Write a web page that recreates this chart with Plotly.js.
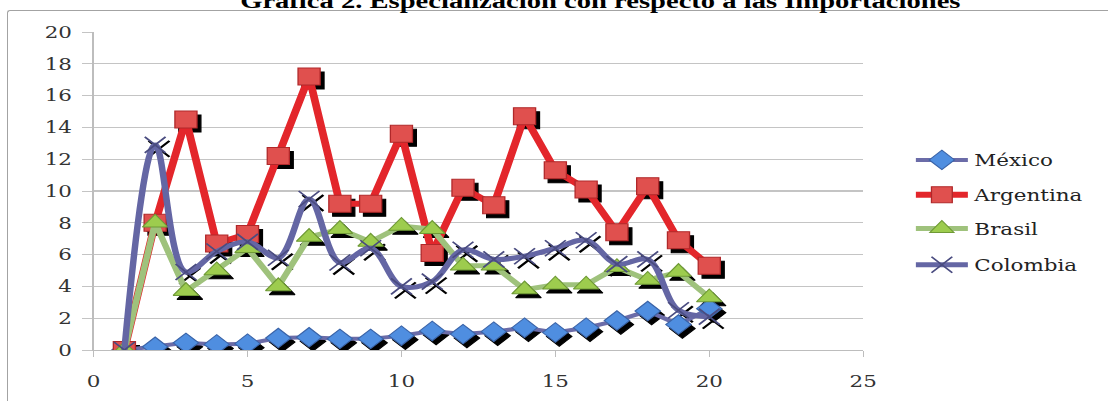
<!DOCTYPE html>
<html><head><meta charset="utf-8">
<script src="https://cdn.plot.ly/plotly-3.0.1.min.js"></script>
<style>
html,body{margin:0;padding:0;background:#fff;overflow:hidden;}
#wrap{width:1108px;height:401px;overflow:hidden;position:relative;background:#fff;}
#frame{position:absolute;left:7px;top:10px;width:1200px;height:500px;border-top:1.5px solid #a3a3a3;border-left:1.5px solid #a3a3a3;border-top-left-radius:3px;}
#chart{position:absolute;left:0;top:0;width:852px;height:401px;transform:scaleX(1.3);transform-origin:0 0;}
</style></head>
<body><div id="wrap"><div id="frame"></div><div id="chart"></div></div>
<script>
const periodos = [1,2,3,4,5,6,7,8,9,10,11,12,13,14,15,16,17,18,19,20];
const mexico    = [0,0.2,0.45,0.35,0.4,0.75,0.8,0.7,0.7,0.9,1.2,1.0,1.15,1.4,1.1,1.4,1.85,2.45,1.6,2.6];
const argentina = [0,8.0,14.5,6.7,7.3,12.2,17.2,9.2,9.2,13.6,6.1,10.2,9.1,14.7,11.3,10.1,7.4,10.3,6.9,5.3];
const brasil    = [0,8.0,3.7,5.0,6.4,4.0,7.1,7.6,6.8,7.8,7.6,5.3,5.3,3.8,4.1,4.1,5.2,4.4,4.9,3.3];
const colombia  = [0,12.9,4.9,6.2,6.8,5.8,9.5,5.5,6.4,4.0,4.3,6.3,5.7,5.9,6.4,6.9,5.4,5.7,2.5,2.1];
const nombres = ['México','Argentina','Brasil','Colombia'];
const titulo = 'Gráfica 2. Especialización con respecto a las Importaciones';

const series = [mexico, argentina, brasil, colombia];
const lineCol = ['#6b6ca8','#e3262b','#9fc27c','#6466a4'];
const mk = [
  {symbol:'diamond', size:15, color:'#4f8ee0', line:{color:'#3b64a8', width:1}},
  {symbol:'square', size:17, color:'#e0504e', line:{color:'#b0282a', width:1}},
  {symbol:'triangle-up', size:17, color:'#9dcc4e', line:{color:'#6f9a36', width:1}},
  {symbol:'x-thin', size:16, color:'#4a4c80', line:{color:'#4a4c80', width:1.5}}
];
const shp = ['linear','linear','linear','spline'];
const lw = [4,6,5,5];
const legIds = ['legend','legend2','legend3','legend4'];
const legY = [0.597, 0.487, 0.381, 0.267];

const traces = [];
series.forEach((s,i)=>{
  const m = Object.assign({}, mk[i], {color:'#000', line:{color:'#000', width: i===3?2:1}});
  traces.push({x:periodos, y:s, mode:'markers', marker:m, showlegend:false, hoverinfo:'skip', xaxis:'x', yaxis:'y'});
});
series.forEach((s,i)=>{
  traces.push({x:periodos, y:s, name:nombres[i], mode:'lines+markers', legend:legIds[i],
    line:{color:lineCol[i], width:lw[i], shape:shp[i], smoothing:1},
    marker:mk[i], xaxis:'x2', yaxis:'y2'});
});

const pxX = 594.6/25, pxY = 318/20;
const layout = {
  width:852, height:401,
  margin:{l:71.5, r:185.9, t:32, b:51},
  paper_bgcolor:'rgba(0,0,0,0)', plot_bgcolor:'rgba(0,0,0,0)',
  font:{family:'DejaVu Serif', color:'#333'},
  title:{text:'<b>'+titulo+'</b>', x:0.542, xanchor:'center', y:1.0, yanchor:'middle', yref:'container',
         font:{family:'Liberation Serif', size:22, color:'#000'}},
  xaxis:{range:[0-3/pxX, 25-3/pxX], visible:false, fixedrange:true},
  yaxis:{range:[0+4/pxY, 20+4/pxY], visible:false, fixedrange:true},
  xaxis2:{overlaying:'x', anchor:'y2', side:'bottom', range:[0,25], dtick:5, tick0:0,
    showgrid:false, zeroline:false, showline:true, linecolor:'#bdbdbd', linewidth:1.3,
    ticks:'outside', ticklen:6, tickcolor:'#bdbdbd', ticklabelstandoff:10, tickfont:{size:16.5, color:'#333'}},
  yaxis2:{overlaying:'y', anchor:'x2', range:[0,20], dtick:2, tick0:0,
    showgrid:true, gridcolor:'#c4c4c4', gridwidth:1.3, zeroline:false,
    showline:true, linecolor:'#bdbdbd', linewidth:1.3,
    ticks:'outside', ticklen:8, tickcolor:'#c4c4c4', ticklabelstandoff:4, tickfont:{size:16.5, color:'#333'}},
  showlegend:true
};
legIds.forEach((id,i)=>{
  layout[id] = {x:1.06, xanchor:'left', y:legY[i], yanchor:'middle', font:{size:16.5, color:'#222'},
    bgcolor:'rgba(0,0,0,0)', itemwidth:40};
});
Plotly.newPlot('chart', traces, layout, {displayModeBar:false, staticPlot:true});
</script></body></html>
